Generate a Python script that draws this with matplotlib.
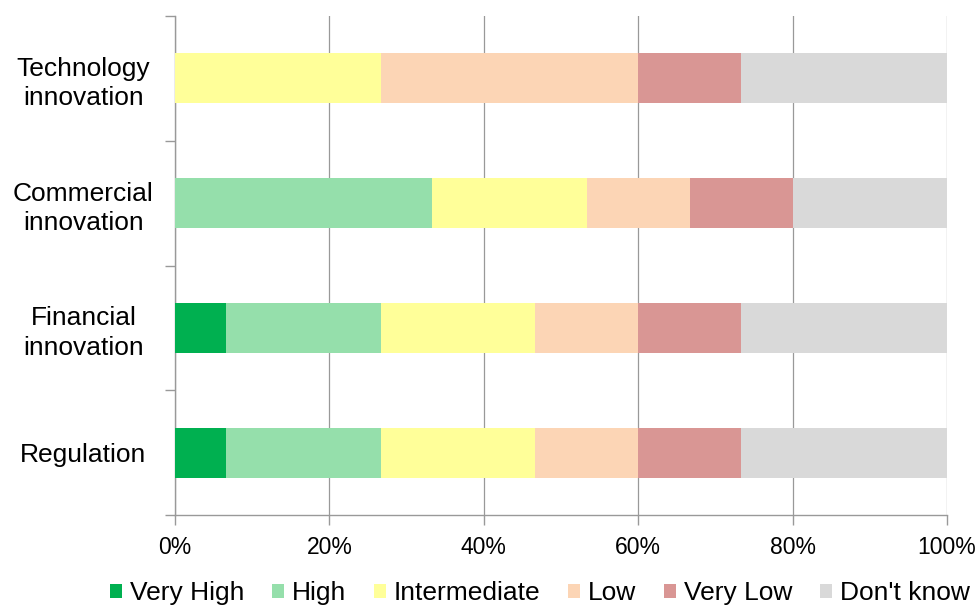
import matplotlib
matplotlib.use("Agg")
import matplotlib.pyplot as plt
import numpy as np

plt.rcParams['font.family'] = ['Liberation Sans', 'DejaVu Sans']

categories = ["Technology\ninnovation", "Commercial\ninnovation", "Financial\ninnovation", "Regulation"]
series_names = ["Very High", "High", "Intermediate", "Low", "Very Low", "Don't know"]
very_high    = [0.0, 0.0, 6.67, 6.67]
high         = [0.0, 33.33, 20.0, 20.0]
intermediate = [26.67, 20.0, 20.0, 20.0]
low          = [33.33, 13.33, 13.33, 13.33]
very_low     = [13.33, 13.33, 13.33, 13.33]
dont_know    = [26.67, 20.0, 26.67, 26.67]
x_ticks = [0, 20, 40, 60, 80, 100]
x_tick_labels = ["0%", "20%", "40%", "60%", "80%", "100%"]

colors = ["#00B050", "#95DFAB", "#FFFF99", "#FCD5B5", "#D99694", "#D9D9D9"]
series = [very_high, high, intermediate, low, very_low, dont_know]

fig = plt.figure(figsize=(9.79, 6.06), dpi=100)
ax = fig.add_axes([175/979, 1-515/606, (947-175)/979, (515-16)/606])

y = np.arange(len(categories))
left = np.zeros(len(categories))
handles = []
for name, vals, c in zip(series_names, series, colors):
    vals = np.array(vals)
    b = ax.barh(y, vals, left=left, height=0.4, color=c, label=name, zorder=3)
    handles.append(b)
    left += vals

ax.set_ylim(3.5, -0.5)
ax.set_xlim(0, 100)
ax.set_xticks(x_ticks)
ax.set_xticklabels(x_tick_labels, fontsize=16.5)
ax.set_yticks(y)
ax.set_yticklabels(categories, fontsize=19, ha='center', linespacing=1.28)
ax.tick_params(axis='y', which='major', length=0, pad=66)
ax.set_yticks(np.arange(-0.5, 4.0, 1.0), minor=True)
ax.tick_params(axis='y', which='minor', length=7, color='#999999', width=1)
ax.tick_params(axis='x', which='major', length=7, color='#999999', width=1, pad=8)
ax.grid(axis='x', color='#999999', linewidth=0.9, zorder=0)
for s in ['top', 'right']:
    ax.spines[s].set_visible(False)
for s in ['left', 'bottom']:
    ax.spines[s].set_color('#999999')
    ax.spines[s].set_linewidth(1)

fig.legend(handles=handles, labels=series_names, loc='center', bbox_to_anchor=(540/979, 1 - 593/606),
           ncol=6, frameon=False, fontsize=19, handlelength=0.45, handleheight=0.45,
           handletextpad=0.3, columnspacing=1.05, borderaxespad=0, borderpad=0)

fig.savefig("out.png", dpi=100)
